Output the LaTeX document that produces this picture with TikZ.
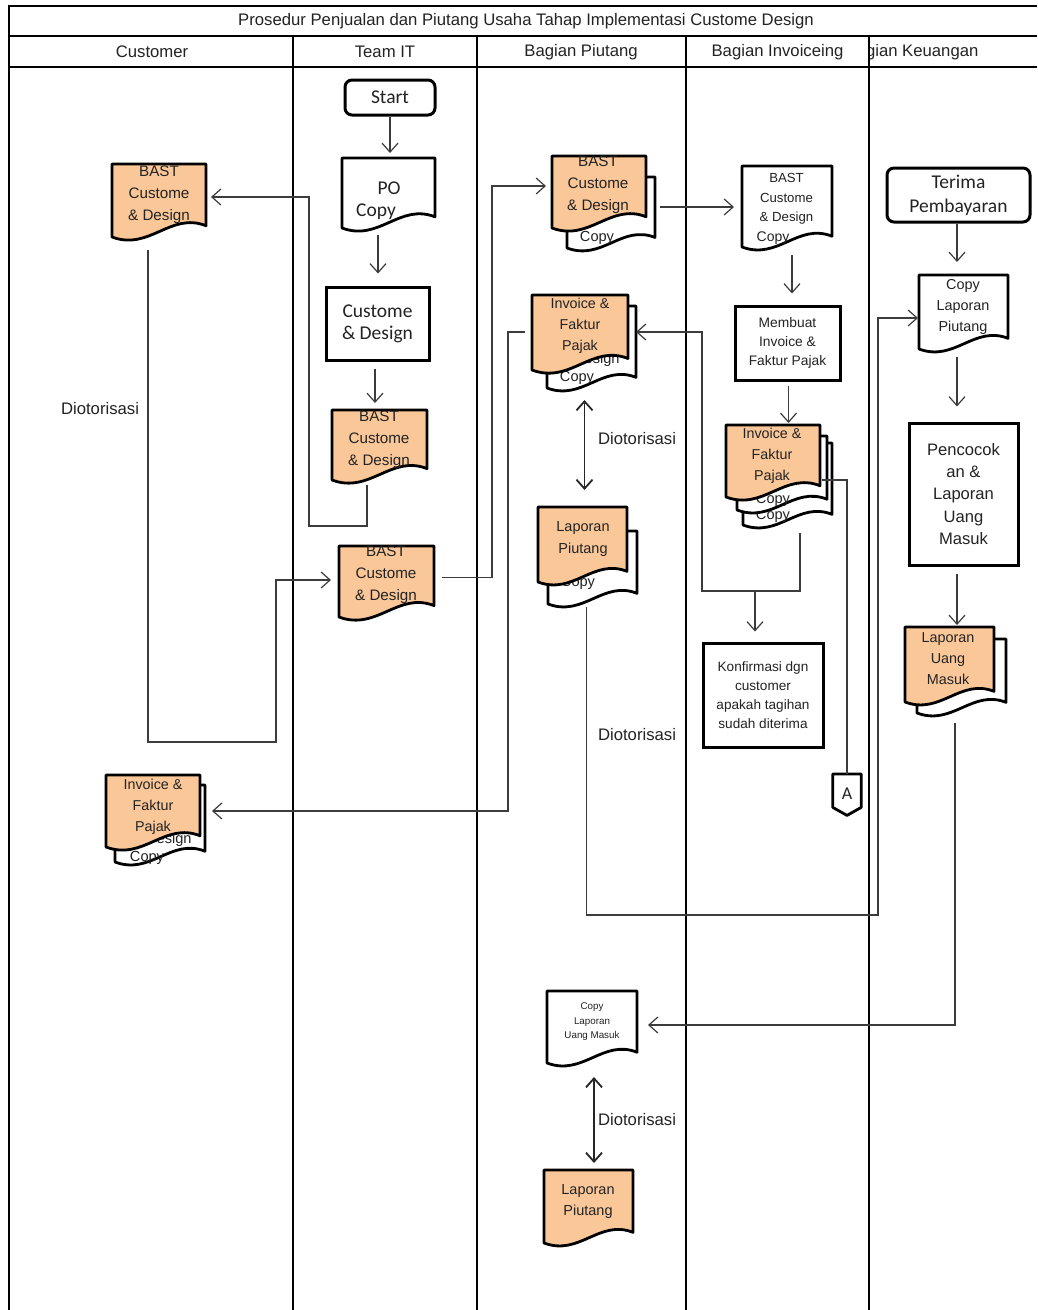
\documentclass[tikz,border=0pt]{standalone}
\usepackage{fontspec}
\setmainfont{Liberation Sans}
\newfontfamily\calfont{Carlito}
\usetikzlibrary{arrows.meta,calc}

\definecolor{docfill}{RGB}{250,199,153}
\definecolor{linegray}{RGB}{60,60,60}
\definecolor{txt}{RGB}{35,35,35}

\tikzset{
  lane/.style={draw=black, line width=2.4pt},
  docline/.style={draw=black, line width=2.8pt, line join=round},
  procbox/.style={draw=black, line width=3pt, fill=white, inner sep=0pt, align=center, text=txt},
  termbox/.style={procbox, rounded corners=7pt},
  conn/.style={draw=linegray, line width=1.2pt},
  arr/.style={conn, -{Straight Barb[length=9pt,width=16pt]}},
  dblarr/.style={draw=black!85, line width=1.8pt,
    {Straight Barb[length=9pt,width=16pt]}-{Straight Barb[length=9pt,width=16pt]}},
  lbl/.style={inner sep=0pt, text=txt, align=center},
  hdr/.style={lbl, font=\fontsize{16.7}{20}\selectfont},
  doctxt/.style={lbl, font=\fontsize{15.2}{22}\selectfont},
  invtxt/.style={lbl, font=\fontsize{14.3}{21}\selectfont},
  copytxt/.style={lbl, font=\fontsize{14.6}{18}\selectfont},
}

% document symbol: top-left (x1,y1), right edge x2, lower-left corner y at yb
\newcommand\docshape[6][white]{%
  \path[docline, fill=#1] (#3,#4) -- (#5,#4) -- (#5,{#6-0.12*(#5-#3)})
    .. controls ({#5-0.38*(#5-#3)},{#6-0.27*(#5-#3)}) and ({#3+0.4*(#5-#3)},{#6+0.15*(#5-#3)})
    .. (#3,#6) -- cycle;
  \node[inner sep=0pt, outer sep=0pt, minimum width={(#5-#3)*1pt},
        minimum height={(#6-#4)*1pt}, anchor=north west] (#2) at (#3,#4) {};
}

\begin{document}
\begin{tikzpicture}[x=1pt,y=-1pt]
\useasboundingbox (0,0) rectangle (1037,1310);
\fill[white] (0,0) rectangle (1037,1310);

% ---------- frame, title and lanes ----------
\draw[lane] (9,1310) -- (9,6) -- (1037,6);
\draw[lane] (9,36) -- (1037,36);
\draw[lane] (9,67) -- (1037,67);
\foreach \x in {293,477,686,869} \draw[lane] (\x,36) -- (\x,1310);

\node[hdr] (title) at (526,21) {Prosedur Penjualan dan Piutang Usaha Tahap Implementasi Custome Design};
\node[hdr] (hcust) at (152,52) {Customer};
\node[hdr] (hteam) at (385,52) {Team IT};
\node[hdr] (hpiut) at (581,52) {Bagian Piutang};
\node[hdr] (hinv) at (777.5,52) {Bagian Invoiceing};
\begin{scope}
  \clip (870,37) rectangle (1037,66);
  \node[hdr] (hkeu) at (912,52) {Bagian Keuangan};
\end{scope}

% ---------- Team IT ----------
\node[termbox, minimum width=90pt, minimum height=35pt,
      font=\calfont\fontsize{19.5}{22}\selectfont] (start) at (390,97.5) {Start};

\docshape{po}{342}{158}{435}{228}
\node[lbl, font=\calfont\fontsize{19.5}{24}\selectfont] (po-a) at (389,188) {PO};
\node[lbl, font=\calfont\fontsize{19.5}{24}\selectfont] (po-b) at (376,212) {Copy};

\node[procbox, minimum width=103pt, minimum height=73pt,
      font=\calfont\fontsize{19.5}{22}\selectfont] (cd) at (377.5,323.5) {Custome\\\& Design};

\docshape[docfill]{tb1}{332}{410}{427}{480}
\node[doctxt] (tb1-t) at (379,440) {BAST\\Custome\\\& Design};

\docshape[docfill]{tb2}{339}{546}{434}{617}
\node[doctxt] (tb2-t) at (386,575) {BAST\\Custome\\\& Design};

% ---------- Customer ----------
\docshape[docfill]{cb}{112}{164}{206}{237}
\node[doctxt] (cb-t) at (159,195) {BAST\\Custome\\\& Design};

\docshape{cib}{115}{785}{205}{862}
\node[copytxt] (cib-a) at (162,840) {\& Design};
\node[copytxt] (cib-b) at (147,858) {Copy};
\docshape[docfill]{ci}{106}{775}{200}{847}
\node[invtxt] (ci-t) at (153,807) {Invoice \&\\Faktur\\Pajak};

\node[hdr] (dio1) at (100,409) {Diotorisasi};

% ---------- Bagian Piutang ----------
\docshape{pbb}{567}{177}{655}{248}
\node[copytxt] (pbb-t) at (597,238) {Copy};
\docshape[docfill]{pb}{552}{156}{646}{228}
\node[doctxt] (pb-t) at (598,185) {BAST\\Custome\\\& Design};

\docshape{pib}{547}{306}{636}{388}
\node[copytxt] (pib-a) at (590,360) {\& Design};
\node[copytxt] (pib-b) at (577,378) {Copy};
\docshape[docfill]{pi}{532}{295}{628}{370}
\node[invtxt] (pi-t) at (580,326) {Invoice \&\\Faktur\\Pajak};

\docshape{lpb}{548}{531}{637}{604}
\node[copytxt] (lpb-t) at (578,583) {Copy};
\docshape[docfill]{lp}{538}{507}{627}{582}
\node[lbl, font=\fontsize{14.5}{22}\selectfont] (lp-t) at (583,539) {Laporan\\Piutang};

\node[hdr] (dio2) at (637,439) {Diotorisasi};
\node[hdr] (dio3) at (637,735) {Diotorisasi};

\docshape{clum}{547}{991}{637}{1063}
\node[lbl, font=\fontsize{9.8}{14.5}\selectfont] (clum-t) at (592,1022) {Copy\\Laporan\\Uang Masuk};

\node[hdr] (dio4) at (637,1120) {Diotorisasi};

\docshape[docfill]{lpr}{544}{1170}{633}{1243}
\node[lbl, font=\fontsize{14.5}{21}\selectfont] (lpr-t) at (588,1201.5) {Laporan\\Piutang};

% ---------- Bagian Invoiceing ----------
\docshape{ib}{742}{166}{832}{247}
\node[lbl, font=\fontsize{13.2}{19.3}\selectfont] (ib-t) at (786.5,199) {BAST\\Custome\\\& Design};
\node[lbl, font=\fontsize{14}{18}\selectfont] (ib-c) at (773,238) {Copy};

\node[procbox, minimum width=105pt, minimum height=74pt,
      font=\fontsize{13.8}{19}\selectfont] (mb) at (787.5,343) {Membuat\\Invoice \&\\Faktur Pajak};

\docshape{iib2}{743}{443}{832}{525}
\node[copytxt] (iib2-t) at (773,516) {Copy};
\docshape{iib1}{737}{436}{827}{510}
\node[copytxt] (iib1-t) at (773,500) {Copy};
\docshape[docfill]{ii}{726}{425}{820}{497}
\node[invtxt] (ii-t) at (772,456) {Invoice \&\\Faktur\\Pajak};

\node[procbox, minimum width=120pt, minimum height=104pt,
      font=\fontsize{13.6}{19}\selectfont] (kf) at (763,695)
      {Konfirmasi dgn\\customer\\apakah tagihan\\sudah diterima};

% off-page connector A
\node[inner sep=0pt, minimum width=28pt, minimum height=41pt, anchor=north] (offA) at (847,774) {};
\draw[docline, fill=white] (offA.north west) -- (offA.north east)
   -- ($(offA.south east)+(0,-8)$) -- (offA.south) -- ($(offA.south west)+(0,-8)$) -- cycle;
\node[lbl, font=\calfont\fontsize{18}{20}\selectfont] (offA-t) at (847,794) {A};

% ---------- Bagian Keuangan ----------
\node[termbox, minimum width=143pt, minimum height=54pt,
      font=\calfont\fontsize{19.5}{24}\selectfont] (tp) at (958.5,195) {Terima\\Pembayaran};

\docshape{clp}{919}{275}{1008}{349}
\node[lbl, font=\fontsize{14.4}{21}\selectfont] (clp-t) at (963,307) {Copy\\Laporan\\Piutang};

\node[procbox, minimum width=109pt, minimum height=142pt,
      font=\fontsize{16.6}{22.3}\selectfont] (pc) at (963.5,494) {Pencocok\\an \&\\Laporan\\Uang\\Masuk};

\docshape{lumb}{917}{639}{1006}{713}
\docshape[docfill]{lum}{905}{627}{994}{702}
\node[lbl, font=\fontsize{14.4}{21}\selectfont] (lum-t) at (948,659) {Laporan\\Uang\\Masuk};

% ---------- connectors ----------
\draw[arr] (start.south) -- ($(po.north)+(1.5,-5)$);
\draw[arr] ($(po.south)+(-10.5,7)$) -- ($(cd.north)+(0.5,-12)$);
\draw[arr] ($(cd.south)+(-2.5,7)$) -- ($(tb1.north)+(-4.5,-7)$);
\draw[arr] ($(tb1.south)+(-12.5,5)$) -- ++(0,41) -- ++(-58,0) |- ($(cb.east)+(5,-3.5)$);
\draw[arr] ($(cb.south)+(-11,13)$) -- ++(0,492) -- ++(128,0) |- ($(tb2.west)+(-8,-1.5)$);
\draw[arr] ($(tb2.east)+(8,-4)$) -- ++(50,0) |- ($(pb.west)+(-6,-6)$);
\draw[arr] ($(pb.east)+(14,15)$) -- ($(ib.west)+(-8,0.5)$);
\draw[arr] ($(ib.south)+(5,8)$) -- ($(mb.north)+(4.5,-11)$);
\draw[arr] ($(mb.south)+(1,4)$) -- ($(ii.north)+(15.5,-2)$);
\draw[arr] ($(ii.south)+(27,36)$) -- ++(0,58) coordinate (split) -- ++(-98,0) |- ($(pi.east)+(8,-0.5)$);
\draw[arr] ($(split)+(-45,0)$) -- ($(kf.north)+(-8,-10)$);
\draw[conn] ($(ii.east)+(2,19)$) -- ++(25,0) -- (offA.north);
\draw[arr] ($(pi.west)+(-7,-0.5)$) -- ++(-17,0) |- ($(ci.east)+(12,0)$);
\draw[dblarr] ($(pi.south)+(4.5,30)$) -- ($(lp.north)+(2,-17)$);
\draw[arr] ($(lp.south)+(4,25)$) -- ++(0,308) -- ++(291.5,0) |- ($(clp.west)+(-1,6)$);
\draw[arr] ($(tp.south)+(-1.5,0)$) -- ($(clp.north)+(-6.5,-13)$);
\draw[arr] ($(clp.south)+(-6.5,8)$) -- ($(pc.north)+(-6.5,-15)$);
\draw[arr] ($(pc.south)+(-6.5,7)$) -- ($(lum.north)+(7.5,-2)$);
\draw[arr] ($(lum.south)+(5.5,21)$) |- ($(clum.east)+(11,-2)$);
\draw[dblarr] ($(clum.south)+(2,14)$) -- ($(lpr.north)+(5.5,-7)$);

\end{tikzpicture}
\end{document}
